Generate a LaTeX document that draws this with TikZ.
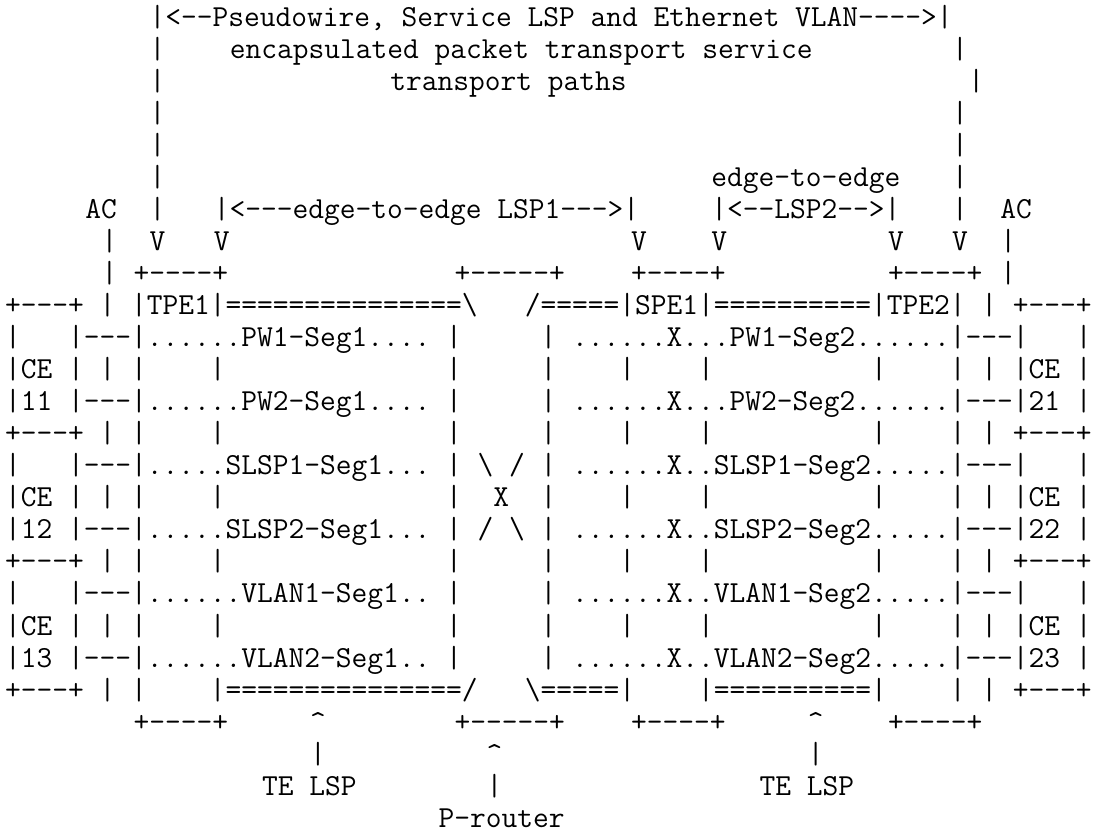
\documentclass[tikz,border=0pt]{standalone}
\usepackage{tikz}

% one column of the drawing is 16.05px wide
\newcommand\asciifont{\ttfamily\fontsize{22.93pt}{24pt}\selectfont}
\newcommand\bs{\textbackslash}
\newcommand\up{\textasciicircum}
\newcommand\gap[1]{\kern#1\fontcharwd\font`\x\relax}

\begin{document}
\begin{tikzpicture}[x=12.0375pt,y=-24.03pt]

\tikzset{
    ascii/.style={anchor=base west, inner sep=0pt, font=\asciifont},
}
\fill[white] (0,0) rectangle (69.408,25.968);
\useasboundingbox (0,0) rectangle (69.408,25.968);

% Pseudowire span
\node[ascii] (pwspan) at (9.31,0.82) {|<--Pseudowire,~Service~LSP~and~Ethernet~VLAN---->|};
\node[ascii] (pwtext) at (14.31,1.82) {encapsulated~packet~transport~service};
\node[ascii] (pwpaths) at (24.31,2.82) {transport~paths};
\foreach \r in {2,...,7}
    \node[ascii] (pwleft\r) at (9.31,\r-0.18) {|};
\foreach \r/\c in {2/59,3/60,4/59,5/59,6/59,7/59}
    \node[ascii] (pwright\r) at (\c+0.31,\r-0.18) {|};

% LSP spans and attachment circuits
\node[ascii] (lsp2top) at (44.31,5.82) {edge-to-edge};
\node[ascii] (acleft) at (5.31,6.82) {AC};
\node[ascii] (lsp1) at (13.31,6.82) {|<---edge-to-edge~LSP1--->|};
\node[ascii] (lsp2) at (44.31,6.82) {|<--LSP2-->|};
\node[ascii] (acright) at (62.31,6.82) {AC};
\foreach \c in {9,13,39,44,55,59}
    \node[ascii] (v\c) at (\c+0.31,7.82) {V};
\foreach \c in {6,62} {
    \node[ascii] (acup\c) at (\c+0.31,7.82) {|};
    \node[ascii] (acdown\c) at (\c+0.31,8.82) {|};
}

% Box tops
\node[ascii] (tpe1top) at (8.31,8.82) {+----+};
\node[ascii] (ptop) at (28.31,8.82) {+-----+};
\node[ascii] (spe1top) at (39.31,8.82) {+----+};
\node[ascii] (tpe2top) at (55.31,8.82) {+----+};

% CE, PE and P nodes with the segments
\node[ascii] (perow) at (0.31,9.82)
    {+---+~|~|TPE1|===============\bs\gap{3}/=====|SPE1|==========|TPE2|~|~+---+};
\node[ascii] (pw1row) at (0.31,10.82)
    {|\gap{3}|---|......PW1-Seg1....~|\gap{5}|~......X...PW1-Seg2......|---|\gap{3}|};
\node[ascii] (ce11top) at (0.31,11.82)
    {|CE~|~|~|\gap{4}|\gap{14}|\gap{5}|\gap{4}|\gap{4}|\gap{10}|\gap{4}|~|~|CE~|};
\node[ascii] (pw2row) at (0.31,12.82)
    {|11~|---|......PW2-Seg1....~|\gap{5}|~......X...PW2-Seg2......|---|21~|};
\node[ascii] (ce11bot) at (0.31,13.82)
    {+---+~|~|\gap{4}|\gap{14}|\gap{5}|\gap{4}|\gap{4}|\gap{10}|\gap{4}|~|~+---+};
\node[ascii] (slsp1row) at (0.31,14.82)
    {|\gap{3}|---|.....SLSP1-Seg1...~|~\bs~/~|~......X..SLSP1-Seg2.....|---|\gap{3}|};
\node[ascii] (ce12mid) at (0.31,15.82)
    {|CE~|~|~|\gap{4}|\gap{14}|\gap{2}X\gap{2}|\gap{4}|\gap{4}|\gap{10}|\gap{4}|~|~|CE~|};
\node[ascii] (slsp2row) at (0.31,16.82)
    {|12~|---|.....SLSP2-Seg1...~|~/~\bs~|~......X..SLSP2-Seg2.....|---|22~|};
\node[ascii] (ce12bot) at (0.31,17.82)
    {+---+~|~|\gap{4}|\gap{14}|\gap{5}|\gap{4}|\gap{4}|\gap{10}|\gap{4}|~|~+---+};
\node[ascii] (vlan1row) at (0.31,18.82)
    {|\gap{3}|---|......VLAN1-Seg1..~|\gap{5}|~......X..VLAN1-Seg2.....|---|\gap{3}|};
\node[ascii] (ce13mid) at (0.31,19.82)
    {|CE~|~|~|\gap{4}|\gap{14}|\gap{5}|\gap{4}|\gap{4}|\gap{10}|\gap{4}|~|~|CE~|};
\node[ascii] (vlan2row) at (0.31,20.82)
    {|13~|---|......VLAN2-Seg1..~|\gap{5}|~......X..VLAN2-Seg2.....|---|23~|};
\node[ascii] (lsprow) at (0.31,21.82)
    {+---+~|~|\gap{4}|===============/\gap{3}\bs=====|\gap{4}|==========|\gap{4}|~|~+---+};

% Box bottoms and labels below
\node[ascii] (tpe1bot) at (8.31,22.82) {+----+};
\node[ascii] (te1up) at (19.31,22.82) {\up};
\node[ascii] (pbot) at (28.31,22.82) {+-----+};
\node[ascii] (spe1bot) at (39.31,22.82) {+----+};
\node[ascii] (te2up) at (50.31,22.82) {\up};
\node[ascii] (tpe2bot) at (55.31,22.82) {+----+};
\node[ascii] (te1stem) at (19.31,23.82) {|};
\node[ascii] (pup) at (30.31,23.82) {\up};
\node[ascii] (te2stem) at (50.31,23.82) {|};
\node[ascii] (te1lbl) at (16.31,24.82) {TE~LSP};
\node[ascii] (pstem) at (30.31,24.82) {|};
\node[ascii] (te2lbl) at (47.31,24.82) {TE~LSP};
\node[ascii] (plbl) at (27.31,25.82) {P-router};

\end{tikzpicture}
\end{document}
